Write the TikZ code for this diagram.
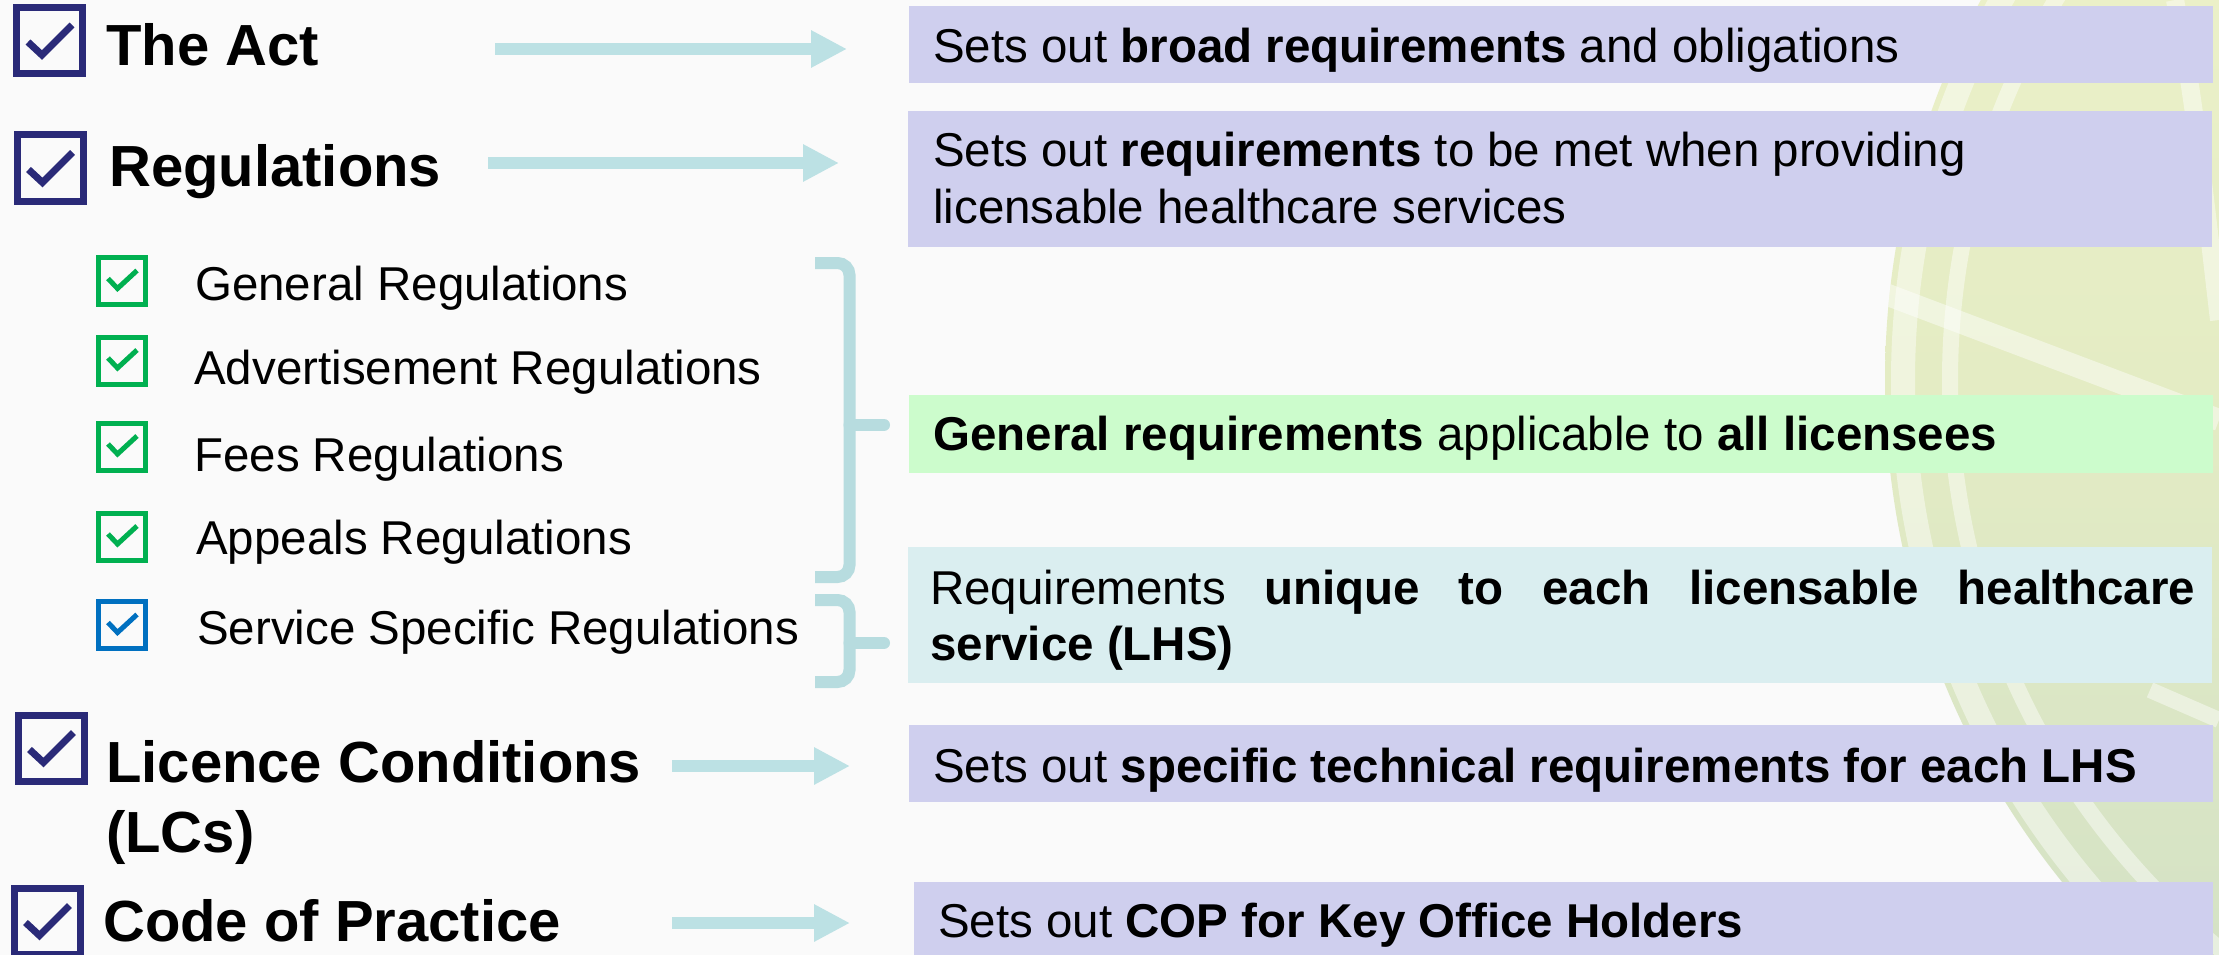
\documentclass[tikz,border=0pt]{standalone}
\usepackage{fontspec}
\setmainfont{Liberation Sans}
\usetikzlibrary{arrows.meta,calc}
\definecolor{bgc}{RGB}{250,250,250}
\definecolor{navy}{RGB}{42,42,120}
\definecolor{okgreen}{RGB}{0,176,80}
\definecolor{okblue}{RGB}{0,112,192}
\definecolor{arrowc}{RGB}{188,225,228}
\definecolor{bracec}{RGB}{183,220,223}
\definecolor{lav}{RGB}{207,207,238}
\definecolor{mint}{RGB}{204,252,204}
\definecolor{pcyan}{RGB}{218,238,240}
\definecolor{wmTop}{RGB}{242,245,204}
\definecolor{wmMid}{RGB}{228,236,196}
\definecolor{wmBot}{RGB}{206,222,198}
\begin{document}
\begin{tikzpicture}[x=1pt,y=-1pt,
  titletxt/.style={anchor=base west, inner sep=0pt, font=\fontsize{58}{70}\selectfont\bfseries},
  bodytxt/.style={anchor=base west, inner sep=0pt, font=\fontsize{47.5}{57}\selectfont},
  bigbox/.style={draw=navy, line width=7pt, minimum size=66pt, inner sep=0pt},
  bigcheck/.style={draw=navy, line width=7pt, miter limit=10},
  smallbox/.style={line width=5pt, minimum width=47pt, minimum height=47pt, inner sep=0pt},
  smallcheck/.style={line width=5pt, miter limit=10},
  infobox/.style={anchor=north west, inner sep=0pt, minimum width=1304pt},
  blockarrow/.style={draw=arrowc, line width=12pt, -{Triangle[width=35pt,length=36pt]}},
  bracepath/.style={draw=bracec, line width=12pt, rounded corners=12pt},
  bracetip/.style={draw=bracec, line width=12pt, line cap=round},
  wmline/.style={draw=white, opacity=0.45}
]
\useasboundingbox (0,0) rectangle (2219,955);
\fill[bgc] (0,0) rectangle (2219,955);
% watermark
\begin{scope}
  \clip (0,0) rectangle (2219,955);
  \shade[top color=wmTop, bottom color=wmBot, middle color=wmMid] (2685,380) circle[radius=800];
  \draw[wmline, line width=24pt] (2685,380) circle[radius=782];
  \draw[wmline, line width=16pt] (2685,380) circle[radius=735];
  \clip (2685,380) circle[radius=800];
  \draw[wmline, line width=22pt] (1880,292) -- (2219,420);
  \draw[wmline, line width=18pt] (2175,0) .. controls (2195,100) and (2205,200) .. (2219,320);
  \draw[wmline, line width=16pt] (2150,690) -- (2219,720);
\end{scope}

% right info boxes
\node[infobox, fill=lav, minimum height=77pt] (b1) at (909,6) {};
\node[infobox, fill=lav, minimum height=136pt] (b2) at (908,111) {};
\node[infobox, fill=mint, minimum height=78pt] (b3) at (909,395) {};
\node[infobox, fill=pcyan, minimum height=136pt] (b4) at (908,547) {};
\node[infobox, fill=lav, minimum height=77pt] (b5) at (909,725) {};
\node[infobox, fill=lav, minimum height=80pt, minimum width=1299pt] (b6) at (914,882) {};

\node[bodytxt] (r1) at (933,63) {Sets out \textbf{broad requirements} and obligations};
\node[bodytxt] (r2a) at (933,167) {Sets out \textbf{requirements} to be met when providing};
\node[bodytxt] (r2b) at (933,223) {licensable healthcare services};
\node[bodytxt] (r3) at (933,450) {\textbf{General requirements} applicable to \textbf{all licensees}};
\node[bodytxt] (r4a) at (930,604) {\hbox to 1265pt{Requirements\hfill\textbf{unique}\hfill\textbf{to}\hfill\textbf{each}\hfill\textbf{licensable}\hfill\textbf{healthcare}}};
\node[bodytxt] (r4b) at (930,660) {\textbf{service (LHS)}};
\node[bodytxt] (r5) at (933,782) {Sets out \textbf{specific technical requirements for each LHS}};
\node[bodytxt] (r6) at (938,937) {Sets out \textbf{COP for Key Office Holders}};

% main checkboxes
\node[bigbox] (cb1) at (49.5,40.5) {};
\draw[bigcheck] ($(cb1)+(-21.5,1.5)$) -- ($(cb1)+(-7.5,14.5)$) -- ($(cb1)+(22.5,-15.5)$);
\node[bigbox] (cb2) at (50,168) {};
\draw[bigcheck] ($(cb2)+(-21.5,1.5)$) -- ($(cb2)+(-7.5,14.5)$) -- ($(cb2)+(22.5,-15.5)$);
\node[bigbox] (cb3) at (51,748) {};
\draw[bigcheck] ($(cb3)+(-21.5,1.5)$) -- ($(cb3)+(-7.5,14.5)$) -- ($(cb3)+(22.5,-15.5)$);
\node[bigbox] (cb4) at (47,921) {};
\draw[bigcheck] ($(cb4)+(-21.5,1.5)$) -- ($(cb4)+(-7.5,14.5)$) -- ($(cb4)+(22.5,-15.5)$);

\node[titletxt] (t1) at (106,66) {The Act};
\node[titletxt] (t2) at (109,186) {Regulations};
\node[titletxt] (t3) at (106,782) {Licence Conditions};
\node[titletxt] (t3b) at (106,852) {(LCs)};
\node[titletxt] (t4) at (103,941) {Code of Practice};

% sub list
\node[smallbox, draw=okgreen] (sb1) at (122,281) {};
\draw[smallcheck, draw=okgreen] ($(sb1)+(-14,-2.5)$) -- ($(sb1)+(-4.5,7.5)$) -- ($(sb1)+(15,-10.5)$);
\node[smallbox, draw=okgreen] (sb2) at (122,360.5) {};
\draw[smallcheck, draw=okgreen] ($(sb2)+(-14,-2.5)$) -- ($(sb2)+(-4.5,7.5)$) -- ($(sb2)+(15,-10.5)$);
\node[smallbox, draw=okgreen] (sb3) at (122,446.5) {};
\draw[smallcheck, draw=okgreen] ($(sb3)+(-14,-2.5)$) -- ($(sb3)+(-4.5,7.5)$) -- ($(sb3)+(15,-10.5)$);
\node[smallbox, draw=okgreen] (sb4) at (122,536.5) {};
\draw[smallcheck, draw=okgreen] ($(sb4)+(-14,-2.5)$) -- ($(sb4)+(-4.5,7.5)$) -- ($(sb4)+(15,-10.5)$);
\node[smallbox, draw=okblue] (sb5) at (122,625) {};
\draw[smallcheck, draw=okblue] ($(sb5)+(-14,-2.5)$) -- ($(sb5)+(-4.5,7.5)$) -- ($(sb5)+(15,-10.5)$);

\node[bodytxt] (s1) at (195,300) {General Regulations};
\node[bodytxt] (s2) at (194,384) {Advertisement Regulations};
\node[bodytxt] (s3) at (194,471) {Fees Regulations};
\node[bodytxt] (s4) at (196,554) {Appeals Regulations};
\node[bodytxt] (s5) at (197,644) {Service Specific Regulations};

% arrows
\coordinate (a1s) at (495,49);  \coordinate (a1e) at (847,49);
\coordinate (a2s) at (488,163); \coordinate (a2e) at (839,163);
\coordinate (a3s) at (672,766); \coordinate (a3e) at (850,766);
\coordinate (a4s) at (672,923); \coordinate (a4e) at (850,923);
\draw[blockarrow] (a1s) -- (a1e);
\draw[blockarrow] (a2s) -- (a2e);
\draw[blockarrow] (a3s) -- (a3e);
\draw[blockarrow] (a4s) -- (a4e);

% braces
\coordinate (k1t) at (815,263); \coordinate (k1m) at (849.5,425); \coordinate (k1b) at (815,577); \coordinate (k1p) at (884,425);
\draw[bracepath] (k1t) -- (849.5,263) -- (k1m) -- (849.5,577) -- (k1b);
\draw[bracetip] (k1m) -- (k1p);
\coordinate (k2t) at (815,600); \coordinate (k2m) at (849.5,643); \coordinate (k2b) at (815,682); \coordinate (k2p) at (884,643);
\draw[bracepath] (k2t) -- (849.5,600) -- (k2m) -- (849.5,682) -- (k2b);
\draw[bracetip] (k2m) -- (k2p);
\end{tikzpicture}
\end{document}
